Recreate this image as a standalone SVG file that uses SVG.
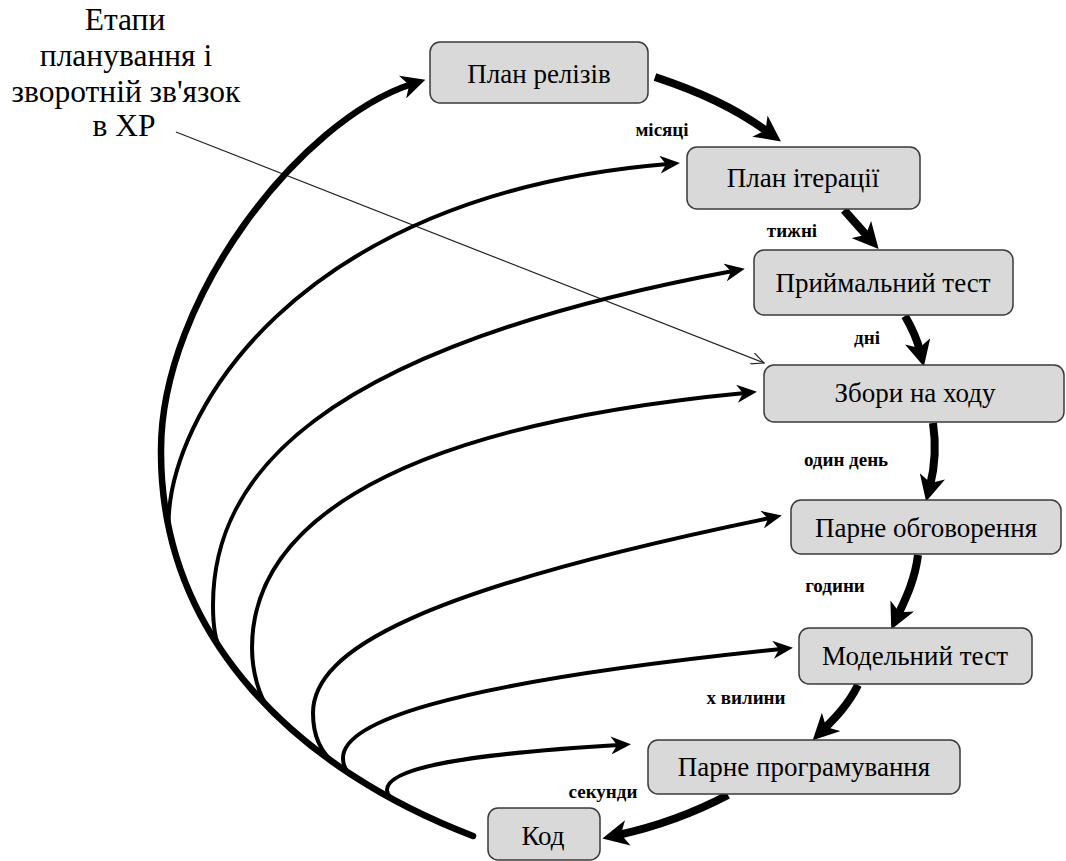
<svg xmlns="http://www.w3.org/2000/svg" width="1066" height="861" viewBox="0 0 1066 861">
<defs>
<marker id="big" viewBox="0 0 26 26" refX="10" refY="13" markerUnits="userSpaceOnUse" markerWidth="26" markerHeight="26" orient="auto"><path d="M0,0 L26,13 L0,26 L7,13 z" fill="#000" stroke="none"/></marker>
<marker id="big2" viewBox="0 0 24 24" refX="10" refY="12" markerUnits="userSpaceOnUse" markerWidth="24" markerHeight="24" orient="auto"><path d="M0,0 L24,12 L0,24 L7,12 z" fill="#000" stroke="none"/></marker>
<marker id="med" viewBox="0 0 20 18" refX="8" refY="9" markerUnits="userSpaceOnUse" markerWidth="20" markerHeight="18" orient="auto"><path d="M0,0 L20,9 L0,18 L6,9 z" fill="#000" stroke="none"/></marker>
<marker id="open" viewBox="0 0 14 12" refX="13" refY="6" markerUnits="userSpaceOnUse" markerWidth="14" markerHeight="12" orient="auto"><path d="M0,0 L13,6 L0,12" fill="none" stroke="#222" stroke-width="1.2"/></marker>
</defs>

<g id="title" text-anchor="middle" fill="#000">
<text x="125" y="30" font-size="31.5" font-family="Liberation Serif">Етапи</text>
<text x="126" y="66" font-size="31.5" font-family="Liberation Serif">планування і</text>
<text x="126" y="102" font-size="31.5" font-family="Liberation Serif">зворотній зв'язок</text>
<text x="124" y="136" font-size="31.5" font-family="Liberation Serif">в ХР</text>
</g>

<g id="connectors" fill="none" stroke="#000">
<path stroke="#222" stroke-width="1.2" marker-end="url(#open)" d="M176,132 L764,363"/>
<g stroke-width="4">
<path marker-end="url(#med)" d="M168.6,526.3 C167,420 290,195 668,164"/>
<path marker-end="url(#med)" d="M220.6,649 C213.9,639 213,620 213,605 C213,480 310,350 733,271"/>
<path marker-end="url(#med)" d="M269.4,708.4 C258.9,697.7 252,670 252,648 C252,540 360,430 745,393"/>
<path marker-end="url(#med)" d="M337.7,765.6 C321.3,754.2 313,738 313,713 C313,650 420,590 770,518"/>
<path marker-end="url(#med)" d="M351.2,774.6 C346.2,771.3 343,766 343,758 C343,725 430,685 781,649"/>
<path marker-end="url(#med)" d="M397.6,801.8 C393.2,799.5 387,795 387,790 C387,770 450,755 619,745"/>
</g>
<path stroke-width="6.5" stroke-linecap="round" marker-end="url(#big2)" d="M473,836 C300,770 160,640 161,450 C161,300 300,120 412,84"/>
<g stroke-width="8">
<path marker-end="url(#big)" d="M655,77 C700,92 735,108 768,132"/>
<path marker-end="url(#big)" d="M844,210 L868,237"/>
<path marker-end="url(#big)" d="M905,316 Q916,335 920,351"/>
<path marker-end="url(#big)" d="M933,423 C937,450 934,470 930,486"/>
<path marker-end="url(#big)" d="M918,555 C915,580 905,600 898,615"/>
<path marker-end="url(#big)" d="M858,685 C848,705 835,718 824,729"/>
<path marker-end="url(#big)" d="M728,795 C690,815 650,828 618,835"/>
</g>
</g>

<g id="labels" text-anchor="middle" fill="#000" font-weight="bold">
<text x="662" y="136" font-size="19" font-family="Liberation Serif">місяці</text>
<text x="792" y="237" font-size="19" font-family="Liberation Serif">тижні</text>
<text x="867" y="344" font-size="19" font-family="Liberation Serif">дні</text>
<text x="846" y="466" font-size="19" font-family="Liberation Serif">один день</text>
<text x="835" y="592" font-size="19" font-family="Liberation Serif">години</text>
<text x="746" y="704" font-size="19" font-family="Liberation Serif">х вилини</text>
<text x="603" y="798" font-size="19" font-family="Liberation Serif">секунди</text>
</g>

<g id="n1"><rect x="430" y="42" width="218" height="61" rx="10" fill="#d9d9d9" stroke="#3a3a3a" stroke-width="1.5"/><text x="539" y="83" font-size="27" text-anchor="middle" fill="#000" font-family="Liberation Serif">План релізів</text></g>
<g id="n2"><rect x="687" y="147" width="233" height="62" rx="10" fill="#d9d9d9" stroke="#3a3a3a" stroke-width="1.5"/><text x="803" y="187" font-size="27" text-anchor="middle" fill="#000" font-family="Liberation Serif">План ітерації</text></g>
<g id="n3"><rect x="754" y="250" width="259" height="65" rx="10" fill="#d9d9d9" stroke="#3a3a3a" stroke-width="1.5"/><text x="883" y="292" font-size="27" text-anchor="middle" fill="#000" font-family="Liberation Serif">Приймальний тест</text></g>
<g id="n4"><rect x="764" y="365" width="300" height="57" rx="10" fill="#d9d9d9" stroke="#3a3a3a" stroke-width="1.5"/><text x="915" y="402" font-size="27" text-anchor="middle" fill="#000" font-family="Liberation Serif">Збори на ходу</text></g>
<g id="n5"><rect x="791" y="500" width="270" height="54" rx="10" fill="#d9d9d9" stroke="#3a3a3a" stroke-width="1.5"/><text x="926" y="537" font-size="27" text-anchor="middle" fill="#000" font-family="Liberation Serif">Парне обговорення</text></g>
<g id="n6"><rect x="799" y="628" width="233" height="56" rx="10" fill="#d9d9d9" stroke="#3a3a3a" stroke-width="1.5"/><text x="915" y="665" font-size="27" text-anchor="middle" fill="#000" font-family="Liberation Serif">Модельний тест</text></g>
<g id="n7"><rect x="648" y="740" width="312" height="54" rx="10" fill="#d9d9d9" stroke="#3a3a3a" stroke-width="1.5"/><text x="804" y="776" font-size="27" text-anchor="middle" fill="#000" font-family="Liberation Serif">Парне програмування</text></g>
<g id="n8"><rect x="488" y="808" width="112" height="52" rx="10" fill="#d9d9d9" stroke="#3a3a3a" stroke-width="1.5"/><text x="543" y="845" font-size="27" text-anchor="middle" fill="#000" font-family="Liberation Serif">Код</text></g>
</svg>
